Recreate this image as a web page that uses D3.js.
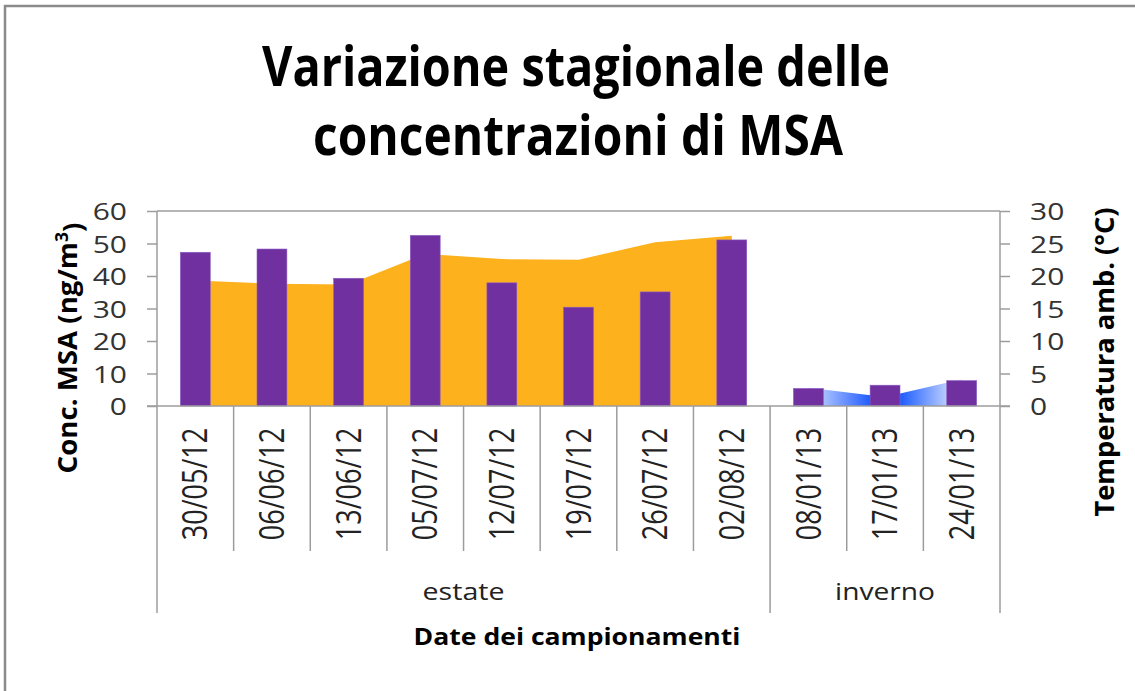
<!DOCTYPE html>
<html>
<head>
<meta charset="utf-8">
<script src="https://cdn.jsdelivr.net/npm/d3@7"></script>
<style>
  body { margin: 0; background: #fff; }
  text { font-family: "Open Sans", "Noto Sans", sans-serif; }
</style>
</head>
<body>
<script>
// sampling dates and season of each one
var dates = ["30/05/12", "06/06/12", "13/06/12", "05/07/12", "12/07/12", "19/07/12",
             "26/07/12", "02/08/12", "08/01/13", "17/01/13", "24/01/13"];
var seasons = ["estate", "inverno"];
var seasonCount = [8, 3];

// MSA concentration (ng/m3), bars
var msa = [47.3, 48.3, 39.3, 52.5, 37.9, 30.4, 35.1, 51.1, 5.4, 6.4, 7.8];

// ambient temperature (°C), areas
var tempEstate = [19.3, 18.8, 18.7, 23.4, 22.6, 22.5, 25.2, 26.2];
var tempInverno = [2.8, 1.4, 4.1];

var leftTicks = [0, 10, 20, 30, 40, 50, 60];
var rightTicks = [0, 5, 10, 15, 20, 25, 30];

var W = 1135, H = 691;
var axisColor = "#9c9c9c";
var sx = 1.25; // the picture is a little wider than tall text

var svg = d3.select("body").append("svg")
  .attr("width", W)
  .attr("height", H);

// outer frame
svg.append("rect")
  .attr("x", 5).attr("y", 6)
  .attr("width", W + 20).attr("height", H + 20)
  .attr("fill", "#fff")
  .attr("stroke", "#8a8a8a")
  .attr("stroke-width", 2.5);

var x = d3.scaleBand().domain(dates).range([157, 1000]);
var yL = d3.scaleLinear().domain([0, 60]).range([406, 211]);
var yR = d3.scaleLinear().domain([0, 30]).range([406, 211]);
var cx = function(d) { return x(d) + x.bandwidth() / 2; };
var barW = x.bandwidth() * 0.39;

// temperature areas
var defs = svg.append("defs");
var estateDates = dates.slice(0, seasonCount[0]);
var invernoDates = dates.slice(seasonCount[0]);

var grad = defs.append("linearGradient")
  .attr("id", "blu")
  .attr("gradientUnits", "userSpaceOnUse")
  .attr("x1", cx(invernoDates[0]) - 20).attr("x2", cx(invernoDates[2]) + 10)
  .attr("y1", 0).attr("y2", 0);
grad.append("stop").attr("offset", 0).attr("stop-color", "#ffffff");
grad.append("stop").attr("offset", 0.2).attr("stop-color", "#a3bcff");
grad.append("stop").attr("offset", 0.45).attr("stop-color", "#1f5bff");
grad.append("stop").attr("offset", 0.62).attr("stop-color", "#2260ff");
grad.append("stop").attr("offset", 0.87).attr("stop-color", "#bccfff");
grad.append("stop").attr("offset", 1).attr("stop-color", "#ffffff");

var area = d3.area()
  .x(function(d) { return cx(d[0]); })
  .y0(yR(0))
  .y1(function(d) { return yR(d[1]); });

svg.append("path")
  .datum(d3.zip(estateDates, tempEstate))
  .attr("d", area)
  .attr("fill", "#fdb11c");

svg.append("path")
  .datum(d3.zip(invernoDates, tempInverno))
  .attr("d", area)
  .attr("fill", "url(#blu)");

// MSA bars
svg.selectAll(".bar")
  .data(d3.zip(dates, msa))
  .enter().append("rect")
    .attr("class", "bar")
    .attr("x", function(d) { return cx(d[0]) - barW / 2; })
    .attr("y", function(d) { return yL(d[1]); })
    .attr("width", barW)
    .attr("height", function(d) { return yL(0) - yL(d[1]); })
    .attr("fill", "#7030a0")
    .attr("stroke", "#8c5cc4")
    .attr("stroke-width", 0.6);

// axis frame lines
var lines = svg.append("g").attr("stroke", axisColor).attr("stroke-width", 1.5);
lines.append("line").attr("x1", 157).attr("x2", 1000).attr("y1", 211).attr("y2", 211);
lines.append("line").attr("x1", 147).attr("x2", 1010).attr("y1", yL(0)).attr("y2", yL(0));
lines.append("line").attr("x1", 157).attr("x2", 157).attr("y1", 211).attr("y2", 613);
lines.append("line").attr("x1", 1000).attr("x2", 1000).attr("y1", 211).attr("y2", 613);

// category separators, season boundaries go deeper
var bounds = [0];
seasonCount.forEach(function(n, i) { bounds.push(bounds[i] + n); });
lines.selectAll(".sep")
  .data(dates.slice(1))
  .enter().append("line")
    .attr("class", "sep")
    .attr("x1", function(d) { return x(d); })
    .attr("x2", function(d) { return x(d); })
    .attr("y1", yL(0))
    .attr("y2", function(d, i) { return bounds.indexOf(i + 1) >= 0 ? 613 : 551; });

// left axis
var gL = svg.append("g")
  .attr("transform", "translate(157,0)")
  .call(d3.axisLeft(yL).tickValues(leftTicks).tickSize(10).tickSizeOuter(0));
gL.select(".domain").remove();
gL.selectAll("line").attr("stroke", axisColor).attr("stroke-width", 1.5);
gL.selectAll("text")
  .attr("x", -24)
  .attr("dy", "0.36em")
  .attr("transform", "scale(" + sx + ",1)")
  .attr("font-size", 24)
  .attr("fill", "#333")
  .attr("font-family", "Open Sans");

// right axis
var gR = svg.append("g")
  .attr("transform", "translate(1000,0)")
  .call(d3.axisRight(yR).tickValues(rightTicks).tickSize(10).tickSizeOuter(0));
gR.select(".domain").remove();
gR.selectAll("line").attr("stroke", axisColor).attr("stroke-width", 1.5);
gR.selectAll("text")
  .attr("x", 24)
  .attr("dy", "0.36em")
  .attr("transform", "scale(" + sx + ",1)")
  .attr("font-size", 24)
  .attr("fill", "#333")
  .attr("font-family", "Open Sans");

// date labels, rotated
svg.selectAll(".date")
  .data(dates)
  .enter().append("text")
    .attr("class", "date")
    .attr("text-anchor", "middle")
    .attr("dy", "0.36em")
    .attr("font-size", 27)
    .attr("fill", "#222")
    .attr("transform", function(d) {
      return "translate(" + cx(d) + ",484) rotate(-90) scale(1," + sx + ")";
    })
    .text(function(d) { return d; });

// helper: put a text and squeeze/stretch it to a given length
function fitText(str, px, py, len, opts) {
  var t = svg.append("text")
    .attr("text-anchor", "middle")
    .attr("font-size", opts.size)
    .attr("font-weight", opts.bold ? "bold" : "normal")
    .attr("fill", opts.color || "#111")
    .text(str);
  var k = len / t.node().getComputedTextLength();
  if (opts.rotate) {
    t.attr("dy", "0.36em")
      .attr("transform", "translate(" + px + "," + py + ") rotate(-90) scale(" + k + "," + sx + ")");
  } else {
    t.attr("transform", "translate(" + px + "," + py + ") scale(" + k + ",1)");
  }
  return t;
}

// season labels
seasons.forEach(function(s, i) {
  var a = x(dates[bounds[i]]);
  var b = x(dates[bounds[i + 1] - 1]) + x.bandwidth();
  fitText(s, (a + b) / 2, 600, s === "estate" ? 82 : 100, { size: 24, color: "#222" });
});

// titles
fitText("Variazione stagionale delle", 576, 86, 628, { size: 55, bold: true, color: "#000" });
fitText("concentrazioni di MSA", 578, 155, 530, { size: 55, bold: true, color: "#000" });
fitText("Date dei campionamenti", 577, 645, 327, { size: 23, bold: true, color: "#000" });

// axis titles
var lt = fitText("", 67, 348, 1, { size: 22, bold: true, color: "#000", rotate: true });
lt.text(null);
lt.append("tspan").text("Conc. MSA (ng/m");
lt.append("tspan").attr("dy", "-0.5em").attr("font-size", 14).text("3");
lt.append("tspan").attr("dy", "0.5em").text(")");
var kl = 251 / lt.node().getComputedTextLength();
lt.attr("transform", "translate(67,348) rotate(-90) scale(" + kl + "," + sx + ")");

fitText("Temperatura amb. (°C)", 1104, 362, 309, { size: 22, bold: true, color: "#000", rotate: true });
</script>
</body>
</html>
